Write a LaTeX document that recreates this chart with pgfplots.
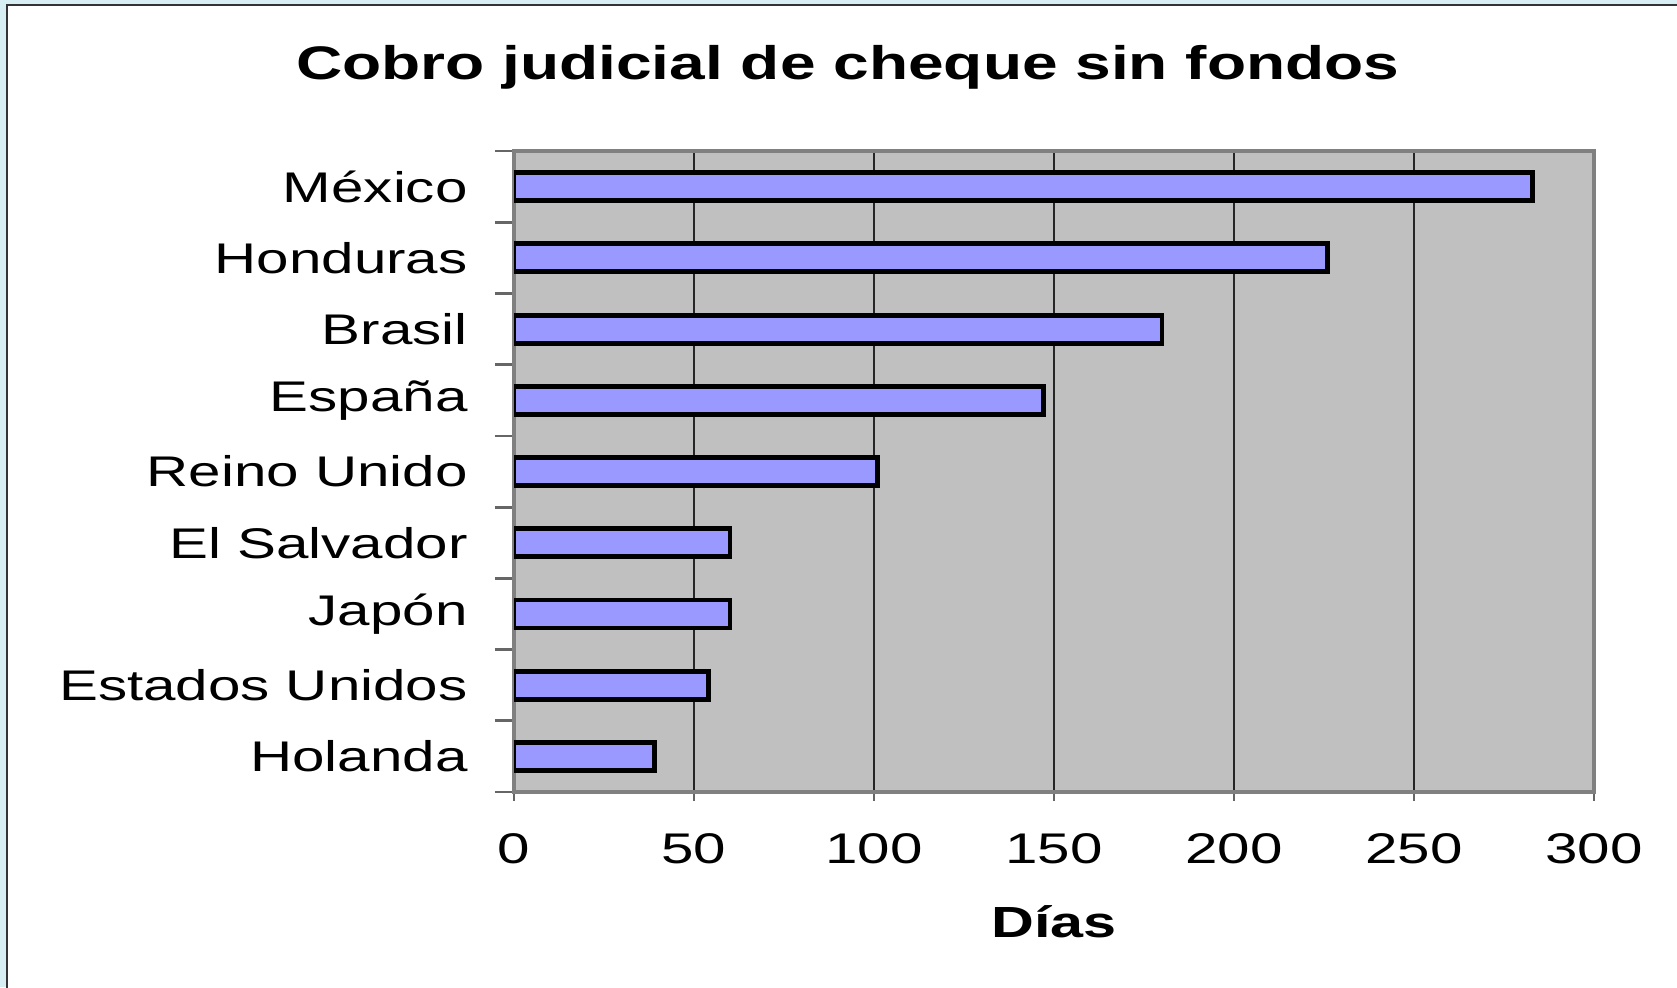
\documentclass[border=0pt]{standalone}
\usepackage{fontspec}
\setmainfont{Liberation Sans}[FakeStretch=1.36]
\usepackage{pgfplots}
\pgfplotsset{compat=1.18}
\definecolor{frameblue}{HTML}{D7EEF2}
\definecolor{plotgray}{HTML}{C0C0C0}
\definecolor{barblue}{HTML}{9999FF}

\begin{document}
\begin{tikzpicture}
\useasboundingbox (0,0) rectangle (16.77,9.87);
\fill[frameblue] (0,0) rectangle (16.77,9.87);
\filldraw[fill=white, draw=black!80, line width=0.6pt] (0.07,-0.2) rectangle (17.0,9.82);
\begin{axis}[
  at={(5.14cm,1.95cm)},
  anchor=south west,
  scale only axis,
  width=10.80cm,
  height=6.41cm,
  xbar,
  bar width=0.28cm,
  xmin=0, xmax=300,
  xtick={0,50,...,300},
  ymin=-0.5, ymax=8.5,
  y dir=reverse,
  ytick={0,...,8},
  yticklabels={México,Honduras,Brasil,España,Reino Unido,El Salvador,Japón,Estados Unidos,Holanda},
  minor ytick={-0.5,0.5,...,8.5},
  major y tick style={draw=none},
  minor y tick style={draw=black!60, line width=0.8pt},
  major x tick style={draw=black!60, line width=0.8pt},
  major tick length=0.09cm,
  minor tick length=0.19cm,
  tick align=outside,
  tick pos=left,
  axis background/.style={fill=plotgray},
  axis line style={draw=black!50, line width=1.4pt},
  xmajorgrids,
  major grid style={draw=black!85, line width=0.6pt},
  /pgf/number format/assume math mode=true,
  tick label style={font=\fontsize{12.2}{14}\selectfont},
  xticklabel style={yshift=-0.2cm},
  yticklabel style={xshift=-0.25cm},
  title={Cobro judicial de cheque sin fondos},
  title style={at={(0.309,1.097)}, anchor=center, font=\fontsize{13.4}{15}\selectfont\bfseries},
  xlabel={Días},
  xlabel style={at={(0.5,-0.203)}, anchor=center, font=\fontsize{12.4}{14}\selectfont\bfseries},
]
\addplot[fill=barblue, draw=black, line width=1.4pt] coordinates {
  (283,0) (226,1) (180,2) (147,3) (101,4) (60,5) (60,6) (54,7) (39,8)
};
\end{axis}
\end{tikzpicture}
\end{document}
